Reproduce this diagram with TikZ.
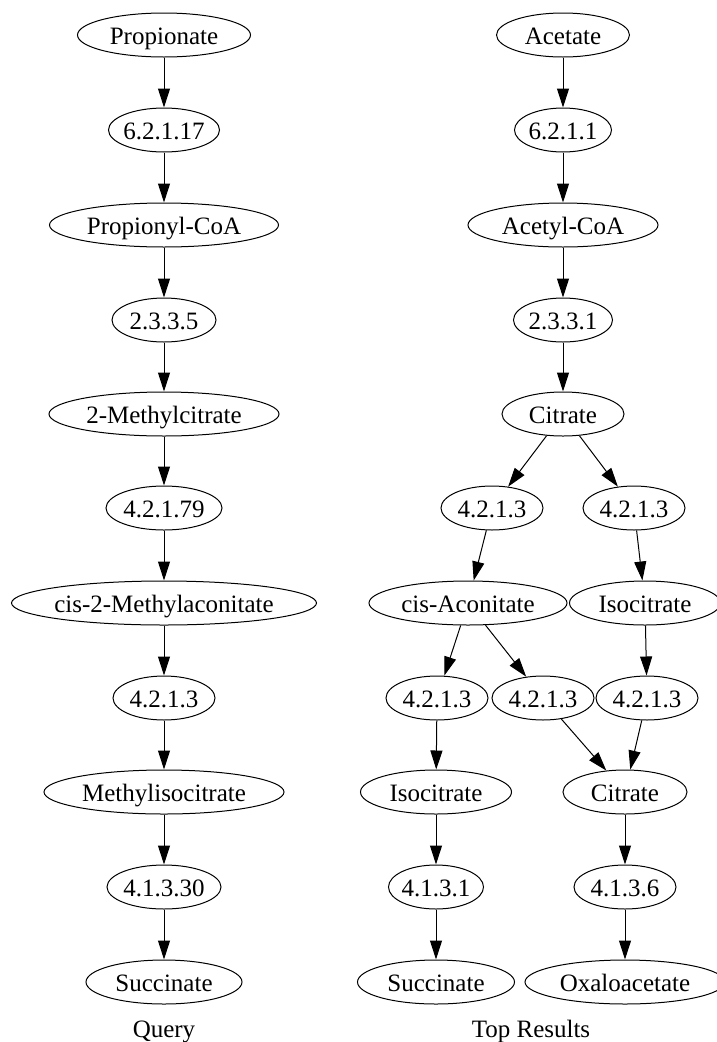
\documentclass[tikz,border=0pt]{standalone}
\usepackage{fontspec}
\setmainfont{Liberation Serif}
\usetikzlibrary{shapes.geometric,arrows.meta}

% label centred in an ellipse whose size is fixed by the style, not by the text
\newcommand{\lbl}[1]{\makebox[0pt]{\raisebox{-9pt}{#1}}}

\tikzset{
  ell/.style={ellipse, draw, line width=1pt, minimum width=#1, minimum height=44pt,
              inner sep=0pt, text height=0pt, text depth=0pt},
  caption/.style={inner sep=0pt, text height=0pt, text depth=0pt},
  flow/.style={line width=1pt, -{Triangle[length=19pt,width=12pt]}},
}

\begin{document}
\begin{tikzpicture}[x=1pt, y=-1pt, font=\fontsize{25}{30}\selectfont]
\useasboundingbox (0,0) rectangle (716,1042);

% query pathway
\node[ell=173pt] (pA)  at (164,35)  {\lbl{Propionate}};
\node[ell=111pt] (pE1) at (164,130) {\lbl{6.2.1.17}};
\node[ell=229pt] (pB)  at (164,225) {\lbl{Propionyl-CoA}};
\node[ell=104pt] (pE2) at (164,320) {\lbl{2.3.3.5}};
\node[ell=230pt] (pC)  at (164,414) {\lbl{2-Methylcitrate}};
\node[ell=116pt] (pE3) at (164,508) {\lbl{4.2.1.79}};
\node[ell=305pt] (pD)  at (164,603) {\lbl{cis-2-Methylaconitate}};
\node[ell=102pt] (pE4) at (164,698) {\lbl{4.2.1.3}};
\node[ell=240pt] (pF)  at (164,792) {\lbl{Methylisocitrate}};
\node[ell=114pt] (pE5) at (164,887) {\lbl{4.1.3.30}};
\node[ell=156pt] (pG)  at (164,982) {\lbl{Succinate}};
\node[caption]   (q)   at (164,1028) {\lbl{Query}};

\draw[flow] (pA) -- (pE1);
\draw[flow] (pE1) -- (pB);
\draw[flow] (pB) -- (pE2);
\draw[flow] (pE2) -- (pC);
\draw[flow] (pC) -- (pE3);
\draw[flow] (pE3) -- (pD);
\draw[flow] (pD) -- (pE4);
\draw[flow] (pE4) -- (pF);
\draw[flow] (pF) -- (pE5);
\draw[flow] (pE5) -- (pG);

% result pathways
\node[ell=133pt] (rA)  at (563,35)  {\lbl{Acetate}};
\node[ell=97pt]  (rE1) at (563,130) {\lbl{6.2.1.1}};
\node[ell=190pt] (rB)  at (563,225) {\lbl{Acetyl-CoA}};
\node[ell=99pt]  (rE2) at (563,320) {\lbl{2.3.3.1}};
\node[ell=122pt] (rC)  at (563,414) {\lbl{Citrate}};
\node[ell=102pt] (rE3) at (492,508) {\lbl{4.2.1.3}};
\node[ell=102pt] (rE4) at (634,508) {\lbl{4.2.1.3}};
\node[ell=198pt] (rD)  at (468,603) {\lbl{cis-Aconitate}};
\node[ell=151pt] (rF)  at (645,603) {\lbl{Isocitrate}};
\node[ell=102pt] (rE5) at (437,698) {\lbl{4.2.1.3}};
\node[ell=102pt] (rE6) at (543,698) {\lbl{4.2.1.3}};
\node[ell=102pt] (rE7) at (647,698) {\lbl{4.2.1.3}};
\node[ell=151pt] (rG)  at (436,792) {\lbl{Isocitrate}};
\node[ell=124pt] (rH)  at (625,792) {\lbl{Citrate}};
\node[ell=95pt]  (rE8) at (436,887) {\lbl{4.1.3.1}};
\node[ell=102pt] (rE9) at (625,887) {\lbl{4.1.3.6}};
\node[ell=157pt] (rI)  at (436,982) {\lbl{Succinate}};
\node[ell=200pt] (rJ)  at (625,982) {\lbl{Oxaloacetate}};
\node[caption]   (t)   at (531,1028) {\lbl{Top Results}};

\draw[flow] (rA) -- (rE1);
\draw[flow] (rE1) -- (rB);
\draw[flow] (rB) -- (rE2);
\draw[flow] (rE2) -- (rC);
\draw[flow] (rC) -- (rE3);
\draw[flow] (rC) -- (rE4);
\draw[flow] (rE3) -- (rD);
\draw[flow] (rE4) -- (rF);
\draw[flow] (rD) -- (rE5);
\draw[flow] (rD) -- (rE6);
\draw[flow] (rF) -- (rE7);
\draw[flow] (rE5) -- (rG);
\draw[flow] (rE6) -- (rH);
\draw[flow] (rE7) -- (rH);
\draw[flow] (rG) -- (rE8);
\draw[flow] (rH) -- (rE9);
\draw[flow] (rE8) -- (rI);
\draw[flow] (rE9) -- (rJ);
\end{tikzpicture}
\end{document}
